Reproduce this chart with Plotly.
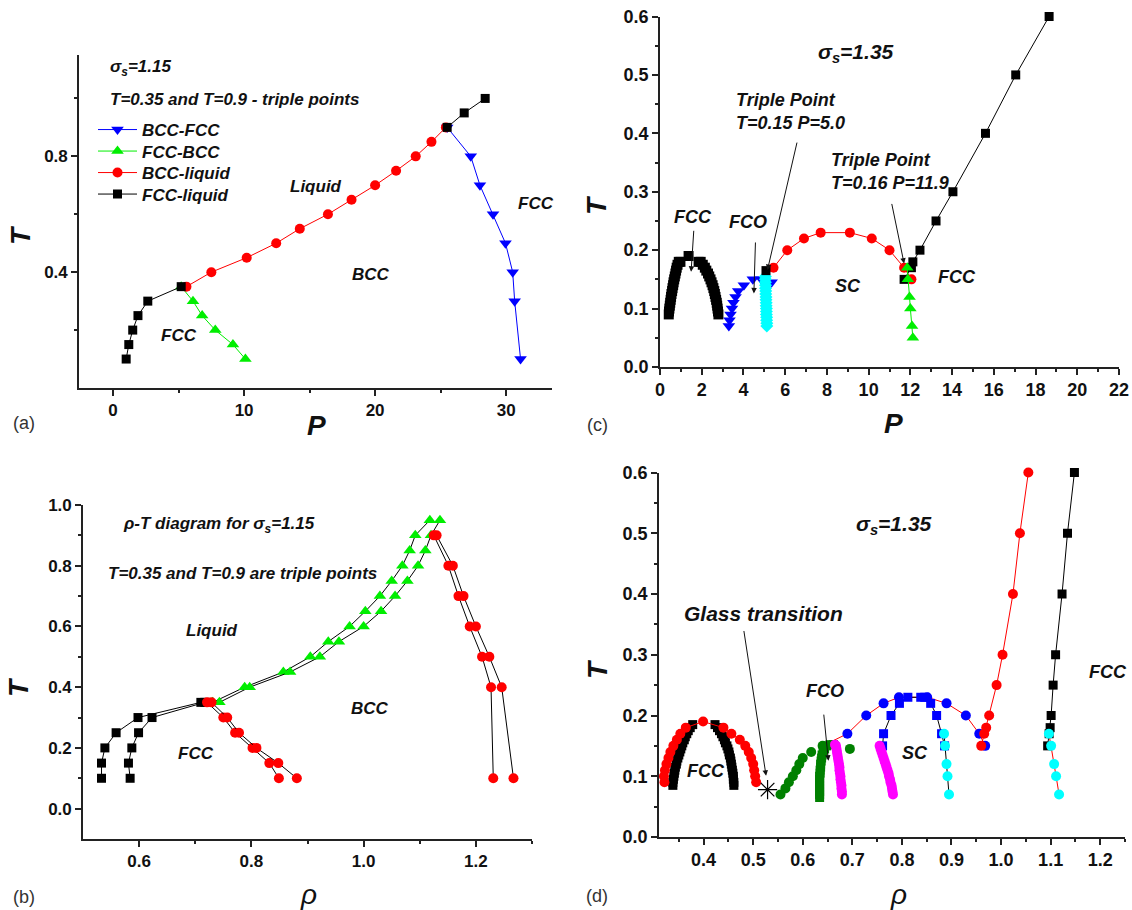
import plotly.graph_objects as go

FONT = "Liberation Sans, Arial, sans-serif"

# ---------------- Panel (a): P-T, sigma_s = 1.15 ----------------
a_bccfcc_P = [25.5, 27.3, 28.0, 29.0, 29.95, 30.5, 30.65, 31.1]
a_bccfcc_T = [0.9, 0.8, 0.7, 0.6, 0.5, 0.4, 0.3, 0.1]
a_fccbcc_P = [5.2, 6.1, 6.8, 7.8, 9.15, 10.1]
a_fccbcc_T = [0.35, 0.30, 0.25, 0.20, 0.15, 0.10]
a_bccliq_P = [5.6, 7.5, 10.2, 12.45, 14.25, 16.4, 18.2, 20.0, 21.6, 23.1, 24.3, 25.4]
a_bccliq_T = [0.35, 0.40, 0.45, 0.50, 0.55, 0.60, 0.65, 0.70, 0.75, 0.80, 0.85, 0.90]
a_fccliq_P = [1.0, 1.2, 1.5, 1.9, 2.65, 5.2, None, 25.5, 26.8, 28.4]
a_fccliq_T = [0.10, 0.15, 0.20, 0.25, 0.30, 0.35, None, 0.90, 0.95, 1.00]

# ---------------- Panel (b): rho-T, sigma_s = 1.15 ----------------
b_sq1_r = [0.533, 0.533, 0.539, 0.559, 0.598, 0.710]
b_sq1_T = [0.10, 0.15, 0.20, 0.25, 0.30, 0.35]
b_sq2_r = [0.584, 0.581, 0.587, 0.599, 0.623, 0.717]
b_sq2_T = [0.10, 0.15, 0.20, 0.25, 0.30, 0.35]
b_trA_r = [0.731, 0.788, 0.857, 0.905, 0.937, 0.975, 1.003, 1.029, 1.050, 1.069, 1.082, 1.092, 1.118]
b_trA_T = [0.35, 0.40, 0.45, 0.50, 0.55, 0.60, 0.65, 0.70, 0.75, 0.80, 0.85, 0.90, 0.95]
b_trB_r = [0.743, 0.797, 0.869, 0.922, 0.956, 1.000, 1.031, 1.056, 1.078, 1.097, 1.110, 1.120, 1.136]
b_trB_T = [0.35, 0.40, 0.45, 0.50, 0.55, 0.60, 0.65, 0.70, 0.75, 0.80, 0.85, 0.90, 0.95]
b_ciC_r = [0.721, 0.750, 0.771, 0.802, 0.832, 0.849]
b_ciC_T = [0.35, 0.30, 0.25, 0.20, 0.15, 0.10]
b_ciD_r = [0.729, 0.757, 0.778, 0.809, 0.848, 0.881]
b_ciD_T = [0.35, 0.30, 0.25, 0.20, 0.15, 0.10]
b_ciE_r = [1.125, 1.151, 1.169, 1.189, 1.211, 1.227, 1.231]
b_ciE_T = [0.9, 0.8, 0.7, 0.6, 0.5, 0.4, 0.1]
b_ciF_r = [1.130, 1.159, 1.178, 1.200, 1.224, 1.246, 1.267]
b_ciF_T = [0.9, 0.8, 0.7, 0.6, 0.5, 0.4, 0.1]

# ---------------- Panel (c): P-T, sigma_s = 1.35 ----------------
c_fccdome_P = [0.42, 0.43, 0.45, 0.47, 0.49, 0.51, 0.53, 0.55, 0.58, 0.60, 0.63, 0.65, 0.68,
               0.71, 0.74, 0.77, 0.80, 0.84, 0.90, 0.98, 1.37, 1.85, 1.95, 2.05, 2.15, 2.22,
               2.30, 2.36, 2.42, 2.47, 2.52, 2.56, 2.60, 2.63, 2.66, 2.69, 2.72, 2.74, 2.76,
               2.78, 2.80]
c_fccdome_T = [0.090, 0.095, 0.100, 0.105, 0.110, 0.115, 0.120, 0.125, 0.130, 0.135, 0.140,
               0.145, 0.150, 0.155, 0.160, 0.165, 0.170, 0.175, 0.180, 0.180, 0.190, 0.180,
               0.180, 0.175, 0.170, 0.165, 0.160, 0.155, 0.150, 0.145, 0.140, 0.135, 0.130,
               0.125, 0.120, 0.115, 0.110, 0.105, 0.100, 0.095, 0.090]
c_fco_P = [3.30, 3.33, 3.38, 3.45, 3.52, 3.62, 3.75, 4.02, 4.45, 4.85, 5.35]
c_fco_T = [0.07, 0.08, 0.09, 0.10, 0.11, 0.12, 0.13, 0.14, 0.15, 0.15, 0.145]
c_cyan_P = [5.12, 5.12, 5.11, 5.11, 5.10, 5.10, 5.10, 5.09, 5.09, 5.08, 5.08, 5.07, 5.07,
            5.06, 5.06, 5.05, 5.05, 5.05]
c_cyan_T = [0.070, 0.075, 0.080, 0.085, 0.090, 0.095, 0.100, 0.105, 0.110, 0.115, 0.120,
            0.125, 0.130, 0.135, 0.140, 0.145, 0.150, 0.155]
c_tp1_P = [5.08]
c_tp1_T = [0.165]
c_scliq_P = [5.08, 5.44, 6.10, 6.90, 7.70, 9.10, 10.15, 11.00, 11.70, 12.05]
c_scliq_T = [0.165, 0.17, 0.20, 0.22, 0.23, 0.23, 0.22, 0.20, 0.17, 0.15]
c_fccliq_P = [11.70, 12.05, 12.12, 12.46, 13.23, 14.04, 15.60, 17.05, 18.65]
c_fccliq_T = [0.15, 0.17, 0.18, 0.20, 0.25, 0.30, 0.40, 0.50, 0.60]
c_scfcc_P = [11.85, 11.88, 11.96, 12.00, 12.08, 12.12]
c_scfcc_T = [0.17, 0.15, 0.12, 0.10, 0.07, 0.05]

# ---------------- Panel (d): rho-T, sigma_s = 1.35 ----------------
d_reddome_r = [0.321, 0.320, 0.322, 0.325, 0.329, 0.333, 0.339, 0.346, 0.353, 0.364, 0.399,
               0.440, 0.456, 0.473, 0.484, 0.491, 0.496, 0.500, 0.502, 0.504, 0.506]
d_reddome_T = [0.09, 0.10, 0.11, 0.12, 0.13, 0.14, 0.15, 0.16, 0.17, 0.18, 0.19,
               0.18, 0.17, 0.16, 0.15, 0.14, 0.13, 0.12, 0.11, 0.10, 0.09]
d_blkdome_r = [0.338, 0.338, 0.339, 0.340, 0.341, 0.342, 0.343, 0.345, 0.346, 0.348, 0.350,
               0.352, 0.354, 0.356, 0.358, 0.361, 0.363, 0.366, 0.369, 0.373, 0.378,
               0.423, 0.428, 0.432, 0.436, 0.439, 0.442, 0.444, 0.447, 0.449, 0.451, 0.452,
               0.454, 0.455, 0.456, 0.457, 0.458, 0.459, 0.460, 0.460, 0.461, 0.461]
d_blkdome_T = [0.085, 0.090, 0.095, 0.100, 0.105, 0.110, 0.115, 0.120, 0.125, 0.130, 0.135,
               0.140, 0.145, 0.150, 0.155, 0.160, 0.165, 0.170, 0.175, 0.180, 0.185,
               0.185, 0.180, 0.175, 0.170, 0.165, 0.160, 0.155, 0.150, 0.145, 0.140, 0.135,
               0.130, 0.125, 0.120, 0.115, 0.110, 0.105, 0.100, 0.095, 0.090, 0.085]
d_glass_r = [0.529]
d_glass_T = [0.078]
d_gcirc_r = [0.555, 0.565, 0.572, 0.580, 0.587, 0.593, 0.600, 0.617, 0.640, 0.695]
d_gcirc_T = [0.07, 0.08, 0.09, 0.10, 0.11, 0.12, 0.13, 0.14, 0.15, 0.145]
d_gband_r = [0.634, 0.634, 0.634, 0.634, 0.634, 0.634, 0.634, 0.634, 0.635, 0.635, 0.636,
             0.636, 0.637, 0.638, 0.639, 0.641, 0.644, 0.648, 0.655, 0.662]
d_gband_T = [0.065, 0.070, 0.075, 0.080, 0.085, 0.090, 0.095, 0.100, 0.105, 0.110, 0.115,
             0.120, 0.125, 0.130, 0.135, 0.140, 0.145, 0.150, 0.152, 0.152]
d_mag1_r = [0.665, 0.667, 0.668, 0.669, 0.670, 0.671, 0.672, 0.673, 0.674, 0.674, 0.675,
            0.676, 0.676, 0.677, 0.678, 0.678, 0.679, 0.679]
d_mag1_T = [0.152, 0.150, 0.145, 0.140, 0.135, 0.130, 0.125, 0.120, 0.115, 0.110, 0.105,
            0.100, 0.095, 0.090, 0.085, 0.080, 0.075, 0.070]
d_mag2_r = [0.755, 0.757, 0.759, 0.761, 0.763, 0.765, 0.767, 0.769, 0.771, 0.773, 0.774,
            0.776, 0.777, 0.779, 0.780, 0.781, 0.782]
d_mag2_T = [0.150, 0.145, 0.140, 0.135, 0.130, 0.125, 0.120, 0.115, 0.110, 0.105, 0.100,
            0.095, 0.090, 0.085, 0.080, 0.075, 0.070]
d_bcirc_r = [0.645, 0.690, 0.728, 0.763, 0.794, 0.851, 0.890, 0.929, 0.956, 0.968]
d_bcirc_T = [0.152, 0.17, 0.20, 0.22, 0.23, 0.23, 0.22, 0.20, 0.17, 0.15]
d_bsq_r = [0.761, 0.763, 0.778, 0.795, 0.812, 0.838, 0.846, 0.858, 0.870, 0.880, 0.886]
d_bsq_T = [0.15, 0.17, 0.20, 0.22, 0.23, 0.23, 0.23, 0.22, 0.20, 0.17, 0.15]
d_cyanL_r = [0.885, 0.887, 0.890, 0.892, 0.895]
d_cyanL_T = [0.17, 0.15, 0.12, 0.10, 0.07]
d_redR_r = [0.960, 0.966, 0.970, 0.976, 0.991, 1.003, 1.024, 1.038, 1.055]
d_redR_T = [0.15, 0.17, 0.18, 0.20, 0.25, 0.30, 0.40, 0.50, 0.60]
d_blkR_r = [1.094, 1.097, 1.099, 1.101, 1.105, 1.110, 1.123, 1.134, 1.148]
d_blkR_T = [0.15, 0.17, 0.18, 0.20, 0.25, 0.30, 0.40, 0.50, 0.60]
d_cyanR_r = [1.0965, 1.101, 1.107, 1.111, 1.117]
d_cyanR_T = [0.17, 0.15, 0.12, 0.10, 0.07]

BLUE, GREEN, RED, BLACK = "#0000FF", "#00EE00", "#FF0000", "#000000"
CYAN, MAG, DGREEN = "#00FFFF", "#FF00FF", "#008000"

fig = go.Figure()


def add(x, y, xa, ya, color, symbol, size=10, line_color=None, line=True, name=None,
        legend=None, lw=1, markers=True):
    if markers and line:
        mode = "lines+markers"
    elif markers:
        mode = "markers"
    else:
        mode = "lines"
    kw = dict(showlegend=False)
    if legend:
        kw = dict(showlegend=True, legend=legend)
    fig.add_trace(go.Scatter(
        x=x, y=y, xaxis=xa, yaxis=ya, mode=mode, name=name,
        marker=dict(color=color, symbol=symbol, size=size, opacity=1,
                    line=dict(width=0)),
        line=dict(color=line_color or color, width=lw), connectgaps=False,
        opacity=1, cliponaxis=False, **kw))


# (a)
add(a_bccfcc_P, a_bccfcc_T, "x", "y", BLUE, "triangle-down", size=11, name="BCC-FCC", legend="legend")
add(a_fccbcc_P, a_fccbcc_T, "x", "y", GREEN, "triangle-up", size=11, name="FCC-BCC", legend="legend2")
add(a_bccliq_P, a_bccliq_T, "x", "y", RED, "circle", name="BCC-liquid", legend="legend3")
add(a_fccliq_P, a_fccliq_T, "x", "y", BLACK, "square", size=9, name="FCC-liquid", legend="legend4")

# (c)
add(c_fccdome_P, c_fccdome_T, "x2", "y2", BLACK, "square", size=10, line=False)
add(c_fco_P, c_fco_T, "x2", "y2", BLUE, "triangle-down", size=11, line=False)
add(c_cyan_P, c_cyan_T, "x2", "y2", CYAN, "diamond", size=10, line=False)
add(c_scliq_P, c_scliq_T, "x2", "y2", RED, "circle", markers=False)
add(c_scliq_P[1:], c_scliq_T[1:], "x2", "y2", RED, "circle", size=10, line=False)
add(c_tp1_P, c_tp1_T, "x2", "y2", BLACK, "square", size=9, line=False)
add(c_fccliq_P, c_fccliq_T, "x2", "y2", BLACK, "square", size=9)
add(c_scfcc_P, c_scfcc_T, "x2", "y2", GREEN, "triangle-up", size=11)

# (b)
add(b_sq1_r, b_sq1_T, "x3", "y3", BLACK, "square", size=9)
add(b_sq2_r, b_sq2_T, "x3", "y3", BLACK, "square", size=9)
add(b_trA_r, b_trA_T, "x3", "y3", GREEN, "triangle-up", size=11, line_color=BLACK)
add(b_trB_r, b_trB_T, "x3", "y3", GREEN, "triangle-up", size=11, line_color=BLACK)
add(b_ciC_r, b_ciC_T, "x3", "y3", RED, "circle", size=10, line_color=BLACK)
add(b_ciD_r, b_ciD_T, "x3", "y3", RED, "circle", size=10, line_color=BLACK)
add(b_ciE_r, b_ciE_T, "x3", "y3", RED, "circle", size=10, line_color=BLACK)
add(b_ciF_r, b_ciF_T, "x3", "y3", RED, "circle", size=10, line_color=BLACK)

# (d)
add(d_bcirc_r, d_bcirc_T, "x4", "y4", RED, "circle", markers=False)
add(d_bcirc_r[1:], d_bcirc_T[1:], "x4", "y4", BLUE, "circle", size=10, line=False)
add(d_bsq_r, d_bsq_T, "x4", "y4", BLUE, "square", size=9, line_color=BLACK)
add(d_blkdome_r, d_blkdome_T, "x4", "y4", BLACK, "square", size=9, line=False)
add(d_reddome_r, d_reddome_T, "x4", "y4", RED, "circle", size=10)
add(d_gcirc_r, d_gcirc_T, "x4", "y4", DGREEN, "circle", size=10, line=False)
add(d_gband_r, d_gband_T, "x4", "y4", DGREEN, "square", size=9, line=False)
add(d_mag1_r, d_mag1_T, "x4", "y4", MAG, "circle", size=10, line=False)
add(d_mag2_r, d_mag2_T, "x4", "y4", MAG, "circle", size=10, line=False)
add(d_cyanL_r, d_cyanL_T, "x4", "y4", CYAN, "circle", size=10, line_color=BLACK)
add(d_redR_r, d_redR_T, "x4", "y4", RED, "circle", size=10)
add(d_blkR_r, d_blkR_T, "x4", "y4", BLACK, "square", size=9)
add(d_cyanR_r, d_cyanR_T, "x4", "y4", CYAN, "circle", size=10, line_color=RED)
fig.add_trace(go.Scatter(x=d_glass_r, y=d_glass_T, xaxis="x4", yaxis="y4", mode="markers",
                         showlegend=False, cliponaxis=False,
                         marker=dict(symbol="asterisk-open", size=16, color=BLACK,
                                     line=dict(color=BLACK, width=1.2))))

W, H = 1132, 910


def fx(px):
    return px / W


def fy(py):
    return 1 - py / H


def axis(dom, anchor, rng, tickvals, minor_vals, fsize, fmt=None):
    d = dict(domain=dom, anchor=anchor, range=rng, showline=True, linecolor="#222",
             linewidth=1.6, showgrid=False, zeroline=False, ticks="outside", ticklen=6,
             tickwidth=1.5, tickcolor="#222", tickvals=tickvals, automargin=False,
             tickfont=dict(family=FONT, size=fsize, color="#111", weight="bold"),
             minor=dict(tickvals=minor_vals, ticks="outside", ticklen=3.5, tickwidth=1.5,
                        tickcolor="#222", showgrid=False))
    if fmt:
        d["tickformat"] = fmt
    return d


LEGFONT = dict(family=FONT, size=17, weight="bold", style="italic", color="#111")


def leg(py):
    return dict(x=fx(93), y=fy(py), xanchor="left", yanchor="middle",
                bgcolor="rgba(0,0,0,0)", borderwidth=0, itemwidth=39, tracegroupgap=0,
                font=LEGFONT)


layout = dict(
    template="none",
    width=W, height=H, margin=dict(l=0, r=0, t=0, b=0, pad=0),
    paper_bgcolor="white", plot_bgcolor="white",
    font=dict(family=FONT, color="#111"),
    showlegend=True,
    legend=leg(130), legend2=leg(151.5), legend3=leg(173), legend4=leg(194.5),
    # (a)
    xaxis=axis([fx(79), fx(552)], "y", [-2.6, 33.5], [0, 10, 20, 30], [5, 15, 25], 17),
    yaxis=axis([fy(388), fy(55)], "x", [0, 1.15], [0.4, 0.8], [0.2, 0.6, 1.0], 17, ".1f"),
    # (c)
    xaxis2=axis([fx(660), fx(1119)], "y2", [0, 22], list(range(0, 23, 2)),
                list(range(1, 22, 2)), 18),
    yaxis2=axis([fy(367), fy(16.5)], "x2", [0, 0.6], [0, 0.1, 0.2, 0.3, 0.4, 0.5, 0.6],
                [0.05, 0.15, 0.25, 0.35, 0.45, 0.55], 18, ".1f"),
    # (b)
    xaxis3=axis([fx(83), fx(532)], "y3", [0.5, 1.3], [0.6, 0.8, 1.0, 1.2],
                [0.7, 0.9, 1.1, 1.3], 17, ".1f"),
    yaxis3=axis([fy(839), fy(505)], "x3", [-0.1, 1.0], [0, 0.2, 0.4, 0.6, 0.8, 1.0],
                [0.1, 0.3, 0.5, 0.7, 0.9], 17, ".1f"),
    # (d)
    xaxis4=axis([fx(659), fx(1125)], "y4", [0.31, 1.25],
                [0.4, 0.5, 0.6, 0.7, 0.8, 0.9, 1.0, 1.1, 1.2],
                [0.35, 0.45, 0.55, 0.65, 0.75, 0.85, 0.95, 1.05, 1.15, 1.25], 18, ".1f"),
    yaxis4=axis([fy(837), fy(472.5)], "x4", [0, 0.6], [0, 0.1, 0.2, 0.3, 0.4, 0.5, 0.6],
                [0.05, 0.15, 0.25, 0.35, 0.45, 0.55], 18, ".1f"),
)
fig.update_layout(**layout)

BI = dict(family=FONT, weight="bold", style="italic", color="#111")


def lab(text, x, y, xr, yr, size=17, xanchor="center", align="center"):
    fig.add_annotation(text=text, x=x, y=y, xref=xr, yref=yr, showarrow=False,
                       xanchor=xanchor, yanchor="middle", align=align, borderpad=0,
                       font=dict(size=size, **BI))


def arrow(x, y, ax, ay, xr, yr):
    fig.add_annotation(text=" ", x=x, y=y, ax=ax, ay=ay, xref=xr, yref=yr, axref=xr,
                       ayref=yr, showarrow=True, arrowhead=2, arrowsize=1.1,
                       arrowwidth=1, arrowcolor="#111", font=dict(size=4))


SIG = "<i>σ</i><sub><i>s</i></sub>"

# (a) labels
lab(SIG + "=1.15", -0.3, 1.105, "x", "y", 17, "left")
lab("T=0.35 and T=0.9 - triple points", -0.3, 0.996, "x", "y", 17, "left")
lab("Liquid", 15.5, 0.697, "x", "y", 17)
lab("BCC", 19.7, 0.393, "x", "y", 17)
lab("FCC", 5.0, 0.183, "x", "y", 17)
lab("FCC", 32.3, 0.638, "x", "y", 17)

# (b) labels
lab("<i>ρ</i>-T diagram for " + SIG + "=1.15", 0.570, 0.934, "x3", "y3", 17, "left")
lab("T=0.35 and T=0.9 are triple points", 0.5436, 0.773, "x3", "y3", 17, "left")
lab("Liquid", 0.730, 0.587, "x3", "y3", 17)
lab("BCC", 1.011, 0.329, "x3", "y3", 17)
lab("FCC", 0.702, 0.182, "x3", "y3", 17)
lab("FCC", 1.306, 0.354, "x3", "y3", 17)

# (c) labels
lab(SIG + "=1.35", 9.39, 0.537, "x2", "y2", 21)
lab("Triple Point<br>T=0.15 P=5.0", 3.60, 0.4375, "x2", "y2", 18, "left", "left")
arrow(5.15, 0.166, 6.61, 0.391, "x2", "y2")
lab("Triple Point<br>T=0.16 P=11.9", 8.13, 0.335, "x2", "y2", 18, "left", "left")
arrow(11.70, 0.177, 11.07, 0.286, "x2", "y2")
lab("FCC", 1.58, 0.256, "x2", "y2", 18)
arrow(1.49, 0.163, 1.63, 0.240, "x2", "y2")
lab("FCO", 4.24, 0.249, "x2", "y2", 18)
arrow(4.50, 0.126, 4.58, 0.220, "x2", "y2")
lab("SC", 8.99, 0.138, "x2", "y2", 18)
lab("FCC", 14.24, 0.154, "x2", "y2", 18)

# (d) labels
lab(SIG + "=1.35", 0.784, 0.5136, "x4", "y4", 21)
lab("Glass transition", 0.520, 0.368, "x4", "y4", 21)
arrow(0.526, 0.1007, 0.480, 0.3457, "x4", "y4")
lab("FCO", 0.6445, 0.241, "x4", "y4", 18)
arrow(0.6517, 0.1255, 0.6416, 0.208, "x4", "y4")
lab("SC", 0.826, 0.1376, "x4", "y4", 18)
lab("FCC", 0.404, 0.108, "x4", "y4", 18)
lab("FCC", 1.216, 0.271, "x4", "y4", 18)


# panel letters and axis titles (paper)
def plab(text, px, py, size, font, angle=0):
    fig.add_annotation(text=text, x=fx(px), y=fy(py), xref="paper", yref="paper",
                       showarrow=False, xanchor="center", yanchor="middle",
                       textangle=angle, font=dict(size=size, **font))


NORM = dict(family=FONT, color="#333")
plab("(a)", 24, 423, 18, NORM)
plab("(b)", 24, 897, 18, NORM)
plab("(c)", 597, 425, 18, NORM)
plab("(d)", 597, 896, 18, NORM)
plab("P", 316, 425, 28, BI)
plab("P", 893, 423, 28, BI)
plab("<i>ρ</i>", 308, 894, 28, dict(family=FONT, color="#111"))
plab("<i>ρ</i>", 898, 894, 28, dict(family=FONT, color="#111"))
for px, py in [(21, 235), (18, 687), (597, 205), (597, 669)]:
    plab("T", px, py, 28, BI, angle=-90)

fig.write_html("out.html", config={"displayModeBar": False},
               post_script="document.body.style.margin='0px';"
                           "document.body.style.padding='0px';"
                           "document.body.style.overflow='hidden';")
